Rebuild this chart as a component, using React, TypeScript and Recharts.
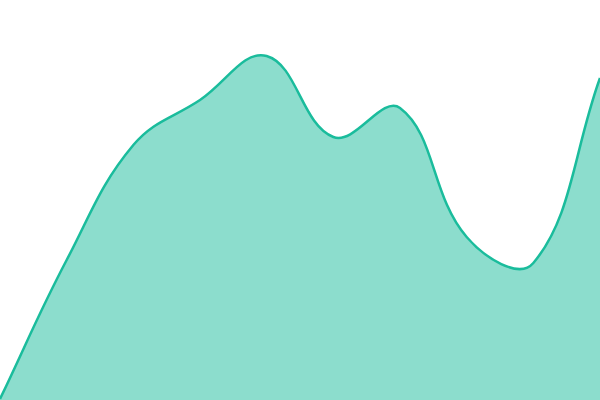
import { AreaChart, Area, XAxis, YAxis } from "recharts";

const categories = ["p1", "p2", "p3", "p4", "p5", "p6", "p7", "p8", "p9", "p10"];
const values = [1, 140, 255, 300, 344, 263, 292, 163, 137, 322];

const data = categories.map((name, i) => ({ name, value: values[i] }));

// spline with handles scaled by segment length (like canvas chart libs do)
const TENSION = 0.4;

function weightedSpline(context: any) {
  let pts: number[][] = [];
  let line = NaN;

  const draw = () => {
    const n = pts.length;
    if (!n) return;
    if (line) context.lineTo(pts[0][0], pts[0][1]);
    else context.moveTo(pts[0][0], pts[0][1]);
    if (n === 1) return;

    const cpIn: number[][] = [];
    const cpOut: number[][] = [];
    for (let i = 0; i < n; i++) {
      const cur = pts[i];
      const prev = pts[Math.max(i - 1, 0)];
      const next = pts[Math.min(i + 1, n - 1)];
      const d01 = Math.hypot(cur[0] - prev[0], cur[1] - prev[1]);
      const d12 = Math.hypot(next[0] - cur[0], next[1] - cur[1]);
      const sum = d01 + d12 || 1;
      const fa = (TENSION * d01) / sum;
      const fb = (TENSION * d12) / sum;
      const vx = next[0] - prev[0];
      const vy = next[1] - prev[1];
      cpIn[i] = [cur[0] - fa * vx, cur[1] - fa * vy];
      cpOut[i] = [cur[0] + fb * vx, cur[1] + fb * vy];
    }
    for (let i = 1; i < n; i++) {
      context.bezierCurveTo(
        cpOut[i - 1][0],
        cpOut[i - 1][1],
        cpIn[i][0],
        cpIn[i][1],
        pts[i][0],
        pts[i][1]
      );
    }
  };

  return {
    areaStart() {
      line = 0;
    },
    areaEnd() {
      line = NaN;
    },
    lineStart() {
      pts = [];
    },
    lineEnd() {
      draw();
      if (line || (line !== 0 && pts.length === 1)) context.closePath();
      line = 1 - line;
    },
    point(x: number, y: number) {
      pts.push([+x, +y]);
    },
  };
}

export default function App() {
  return (
    <div style={{ position: "absolute", left: 0, top: 0 }}>
      <AreaChart
        width={600}
        height={400}
        data={data}
        margin={{ top: 0, right: 0, bottom: 0, left: 0 }}
      >
        <XAxis dataKey="name" hide />
        <YAxis domain={[0, 400]} hide />
        <Area
          type={weightedSpline as any}
          dataKey="value"
          stroke="#1abc9c"
          strokeWidth={2.5}
          fill="#1abc9c"
          fillOpacity={0.5}
          dot={false}
          activeDot={false}
          isAnimationActive={false}
        />
      </AreaChart>
    </div>
  );
}
